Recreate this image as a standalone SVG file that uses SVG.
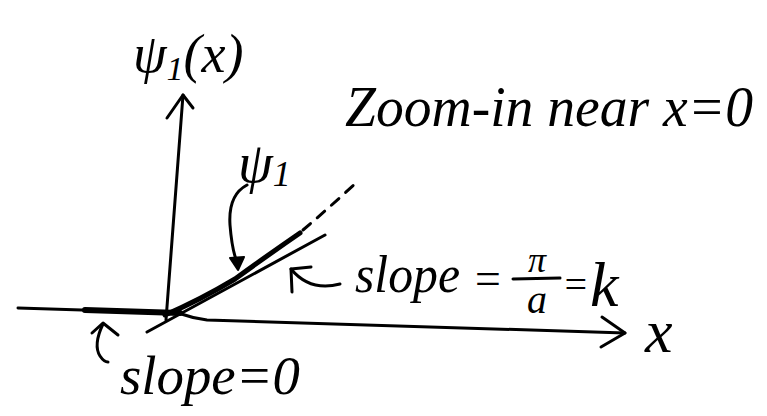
<svg xmlns="http://www.w3.org/2000/svg" width="767" height="416" viewBox="0 0 767 416">
<style>
.t{font-family:"Liberation Serif","DejaVu Serif",serif;font-style:italic;fill:#000}
.ln{fill:none;stroke:#000;stroke-width:3;stroke-linecap:round;stroke-linejoin:round}
</style>
<rect width="767" height="416" fill="#fff"/>
<g id="connectors">
  <path class="ln" d="M183 95 L166 320"/>
  <path class="ln" d="M167 118 L183 95 L193 108"/>
  <path class="ln" d="M18 308 L178 313 Q192 318 207 320 L625 333"/>
  <path class="ln" d="M602 317 L625 333 L601 347"/>
  <path fill="none" stroke="#000" stroke-width="6" stroke-linecap="round" d="M85 310 L180 313"/>
  <path class="ln" d="M147 332 L325 235"/>
  <path fill="none" stroke="#000" stroke-width="5" stroke-linecap="round" d="M165 315 Q200 300 235 279 Q268 255 300 233"/>
  <path class="ln" stroke-dasharray="10 9" d="M303 230 Q330 207 357 182"/>
  <path class="ln" d="M247 185 Q228 195 230 225 Q232 250 237 262"/>
  <path d="M230 258 L238 270 L244 257 Z" fill="#000" stroke="#000" stroke-width="2" stroke-linejoin="round"/>
  <path class="ln" d="M291 269 Q310 292 340 284"/>
  <path class="ln" d="M311 267 L291 269 L292 292"/>
  <path class="ln" d="M103 324 Q93 345 100 356 Q104 362 108 362"/>
  <path class="ln" d="M92 333 L103 323 L118 335"/>
</g>
<g id="ylabel"><text class="t" x="133" y="72" font-size="54">ψ<tspan font-size="34" dy="8">1</tspan><tspan dy="-8">(x)</tspan></text></g>
<g id="title"><text class="t" x="345" y="126" font-size="56" textLength="408" lengthAdjust="spacingAndGlyphs">Zoom-in near x=0</text></g>
<g id="psi1"><text class="t" x="238" y="182" font-size="56">ψ<tspan font-size="36" dy="4">1</tspan></text></g>
<g id="slopek">
  <text class="t" x="355" y="292" font-size="52" textLength="105" lengthAdjust="spacingAndGlyphs">slope</text>
  <text class="t" x="472" y="294" font-size="46">=</text>
  <text class="t" x="537" y="272" font-size="36" text-anchor="middle">π</text>
  <path class="ln" d="M513 279 L560 278"/>
  <text class="t" x="537" y="313" font-size="40" text-anchor="middle">a</text>
  <text class="t" x="562" y="298" font-size="40">=</text>
  <text class="t" x="590" y="306" font-size="64">k</text>
</g>
<g id="xlabel"><text class="t" x="645" y="352" font-size="62">x</text></g>
<g id="slope0"><text class="t" x="120" y="394" font-size="54" textLength="180" lengthAdjust="spacingAndGlyphs">slope=0</text></g>
</svg>
